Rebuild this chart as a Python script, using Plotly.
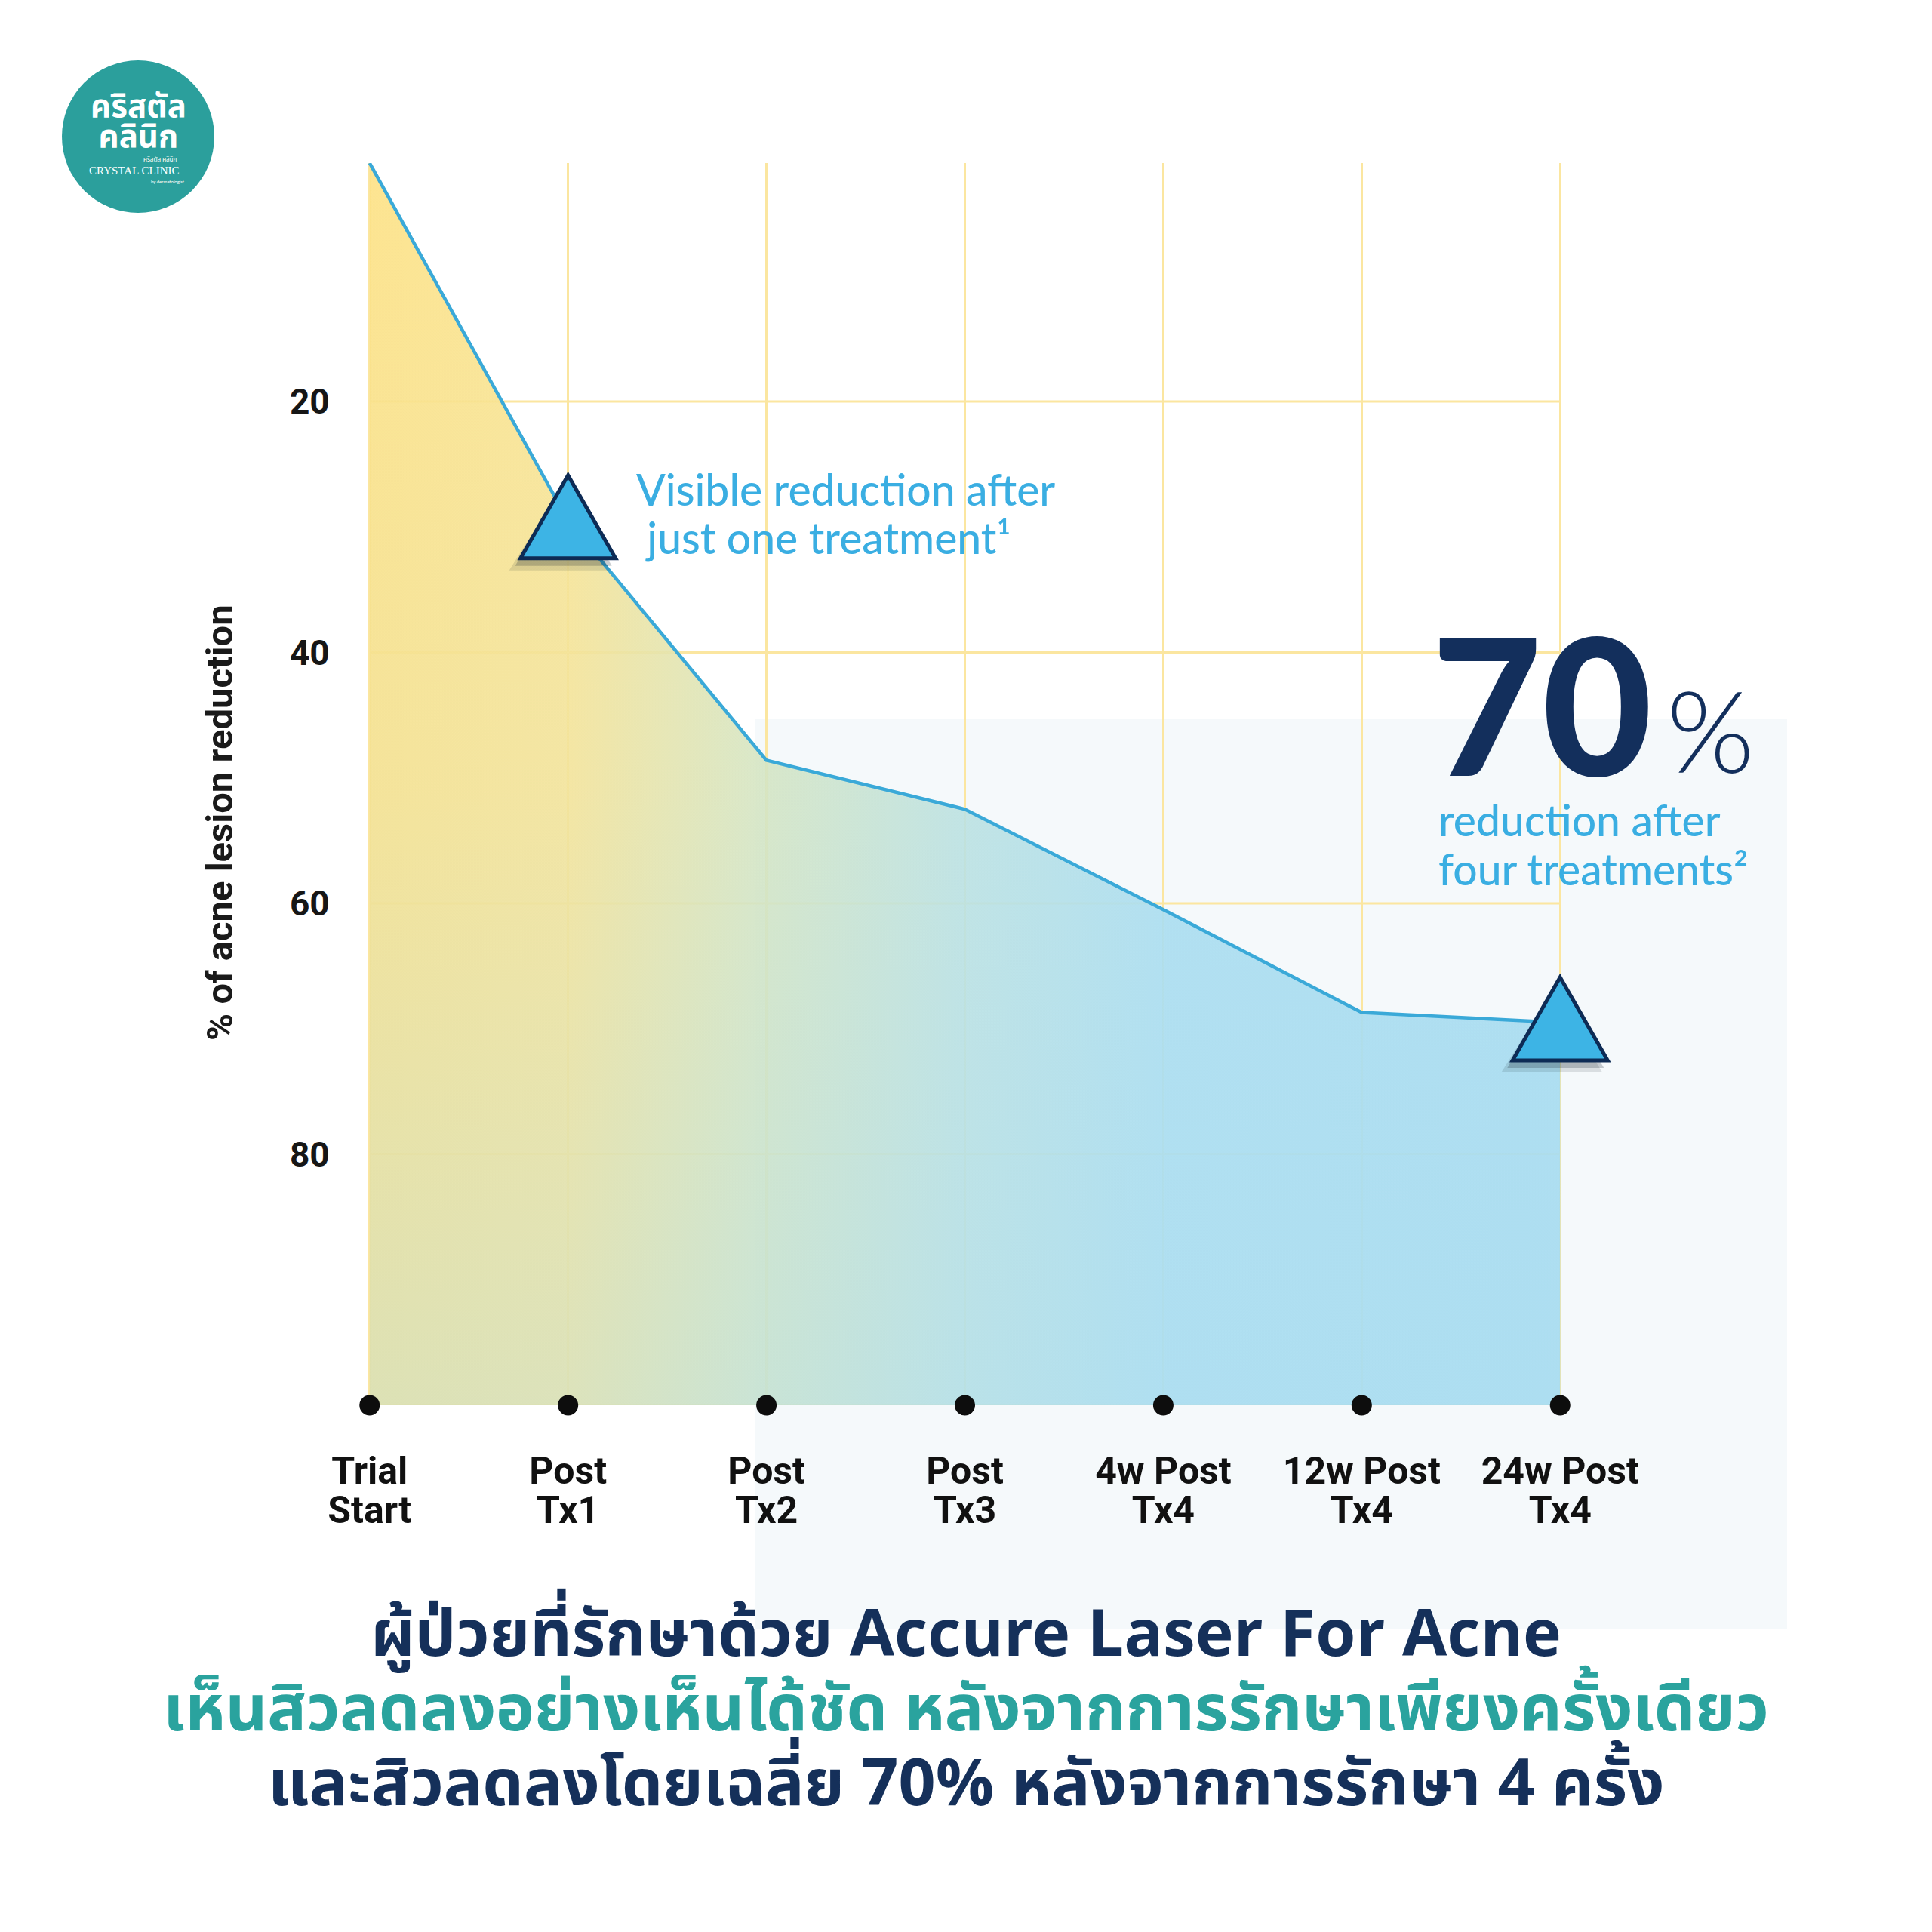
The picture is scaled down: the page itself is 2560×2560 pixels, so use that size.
import plotly.graph_objects as go

# ---------------- data ----------------
tick_line1 = ["Trial", "Post", "Post", "Post", "4w Post", "12w Post", "24w Post"]
tick_line2 = ["Start", "Tx1", "Tx2", "Tx3", "Tx4", "Tx4", "Tx4"]
reduction = [1, 29.5, 48.6, 52.5, 60.5, 68.7, 69.5]
y_tick_vals = [20, 40, 60, 80]
y_tick_text = ["20", "40", "60", "80"]
y_floor = 100
y_top = 1
highlight_points = [1, 6]

y_title = "% of acne lesion reduction"
note1 = ["Visible reduction after", "\u2009\u2009just one treatment¹"]
big_number = "70"
big_unit = "%"
note2 = ["reduction after", "four treatments²"]
headline = [
    "ผู้ป่วยที่รักษาด้วย Accure Laser For Acne",
    "เห็นสิวลดลงอย่างเห็นได้ชัด หลังจากการรักษาเพียงครั้งเดียว",
    "และสิวลดลงโดยเฉลี่ย 70% หลังจากการรักษา 4 ครั้ง",
]
logo_thai = ["คริสตัล", "คลินิก"]
logo_small = "คริสตัล คลินิก"
logo_en = "CRYSTAL CLINIC"
logo_by = "by dermatologist"

# ---------------- geometry ----------------
W = H = 2560
ML, MR, MT, MB = 332, 335, 216, 698
PW = W - ML - MR
PH = H - MT - MB
x_range = [-0.6, 6.6]


def px(x):
    return (x - ML) / PW


def py(y):
    return 1 - (y - MT) / PH


def sized(lines, size, bold=False, colors=None):
    out = []
    for k, t in enumerate(lines):
        style = "font-size:%dpx" % size
        if colors:
            style += ";color:%s" % colors[k]
        body = "<b>%s</b>" % t if bold else t
        out.append("<span style='%s'>%s</span>" % (style, body))
    return "<br>".join(out)


NAVY = "#15305a"
TEAL = "#2aa39e"
SKY = "#3aaee2"
GRID = "#fbe6a0"
THAI = "Noto Sans Thai, Noto Sans Thai UI, Kanit, Prompt, Noto Sans, sans-serif"
LATIN = "Lato, Open Sans, sans-serif"
DIN = "Roboto, Liberation Sans, sans-serif"

xs = list(range(len(tick_line1)))
n = len(xs)
poly_x = xs + xs[::-1]
poly_y = reduction + [y_floor] * n
tick_text = [sized([a, b], 50, bold=True) for a, b in zip(tick_line1, tick_line2)]

fig = go.Figure()

# area, horizontal yellow -> blue gradient
fig.add_trace(go.Scatter(
    x=poly_x, y=poly_y, fill="toself", mode="none", hoverinfo="skip",
    fillgradient=dict(type="horizontal", colorscale=[
        [0.0, "rgba(253,226,135,0.92)"],
        [0.17, "rgba(251,228,145,0.90)"],
        [0.33, "rgba(218,230,190,0.88)"],
        [0.50, "rgba(190,226,224,0.88)"],
        [0.67, "rgba(172,222,240,0.90)"],
        [1.0, "rgba(168,220,240,0.90)"],
    ]),
    showlegend=False,
))
# vertical overlay to make lower part bluer
fig.add_trace(go.Scatter(
    x=poly_x, y=poly_y, fill="toself", mode="none", hoverinfo="skip",
    fillgradient=dict(type="vertical", colorscale=[
        [0.0, "rgba(168,220,240,0.38)"],
        [0.5, "rgba(168,220,240,0.10)"],
        [1.0, "rgba(168,220,240,0.0)"],
    ]),
    showlegend=False,
))
# line
fig.add_trace(go.Scatter(
    x=xs, y=reduction, mode="lines", line=dict(color="#3aa9d8", width=4.5),
    hoverinfo="skip", showlegend=False,
))
# axis dots
fig.add_trace(go.Scatter(
    x=xs, y=[y_floor] * n, mode="markers", cliponaxis=False,
    marker=dict(size=27, color="#0d0d0d"), hoverinfo="skip", showlegend=False,
))

shapes = []
# light bluish background panel
shapes.append(dict(type="rect", xref="paper", yref="paper", layer="below",
                   x0=px(1000), x1=px(2368), y0=py(2158), y1=py(953),
                   fillcolor="#f5f9fb", line=dict(width=0)))
# horizontal grid (limited to category span)
for v in y_tick_vals + [y_floor]:
    shapes.append(dict(type="line", xref="x", yref="y", layer="between",
                       x0=xs[0], x1=xs[-1], y0=v, y1=v,
                       line=dict(color=GRID, width=3)))
# highlight triangles (shadow + triangle)
for i in highlight_points:
    shapes.append(dict(type="path", xref="x", yref="y", xsizemode="pixel", ysizemode="pixel",
                       xanchor=xs[i], yanchor=reduction[i],
                       path="M -10,42 L 56,-66 L -78,-66 Z",
                       fillcolor="rgba(20,30,45,0.12)", line=dict(width=0)))
    shapes.append(dict(type="path", xref="x", yref="y", xsizemode="pixel", ysizemode="pixel",
                       xanchor=xs[i], yanchor=reduction[i],
                       path="M -6,50 L 58,-60 L -70,-60 Z",
                       fillcolor="rgba(20,30,45,0.22)", line=dict(width=0)))
    shapes.append(dict(type="path", xref="x", yref="y", xsizemode="pixel", ysizemode="pixel",
                       xanchor=xs[i], yanchor=reduction[i],
                       path="M 0,60 L 63,-50 L -63,-50 Z",
                       fillcolor="#3db4e5", line=dict(color="#0d2b55", width=5)))
# logo circle
shapes.append(dict(type="circle", xref="paper", yref="paper",
                   x0=px(82), x1=px(284), y0=py(282), y1=py(80),
                   fillcolor="#2b9f9c", line=dict(width=0)))

ann = []
# y title
ann.append(dict(x=px(291), y=py(1090), xref="paper", yref="paper", text="<b>%s</b>" % y_title,
                textangle=-90, showarrow=False, xanchor="center", yanchor="middle",
                font=dict(family="Liberation Sans Narrow, Roboto, sans-serif", size=49, color="#1a1a1a")))
# note 1
ann.append(dict(x=px(841), y=py(680), xref="paper", yref="paper", text=sized(note1, 57),
                xanchor="left", yanchor="middle", align="left", showarrow=False,
                font=dict(family=LATIN, size=49, color=SKY, weight=500)))
# 70 %
ann.append(dict(x=px(1895), y=py(930), xref="paper", yref="paper", text=big_number,
                xanchor="left", yanchor="middle", showarrow=False,
                font=dict(family=LATIN, size=252, color="#132f5c", weight=900)))
ann.append(dict(x=px(2206), y=py(966), xref="paper", yref="paper", text=big_unit,
                xanchor="left", yanchor="middle", showarrow=False,
                font=dict(family=LATIN, size=150, color="#132f5c", weight=300)))
# note 2
ann.append(dict(x=px(1904), y=py(1118), xref="paper", yref="paper", text=sized(note2, 57),
                xanchor="left", yanchor="middle", align="left", showarrow=False,
                font=dict(family=LATIN, size=50, color=SKY, weight=500)))
# headline
ann.append(dict(x=px(1280), y=py(2267), xref="paper", yref="paper",
                text=sized(headline, 86, bold=True, colors=[NAVY, TEAL, NAVY]),
                xanchor="center", yanchor="middle", align="center", showarrow=False,
                font=dict(family=THAI, size=76, color=NAVY)))
# logo texts
ann.append(dict(x=px(183), y=py(162), xref="paper", yref="paper",
                text=sized(logo_thai, 42, bold=True),
                xanchor="center", yanchor="middle", align="center",
                showarrow=False, font=dict(family=THAI, size=31, color="white")))
ann.append(dict(x=px(212), y=py(212), xref="paper", yref="paper", text=logo_small,
                xanchor="center", yanchor="middle",
                showarrow=False, font=dict(family=THAI, size=8, color="white")))
ann.append(dict(x=px(178), y=py(226), xref="paper", yref="paper", text=logo_en,
                xanchor="center", yanchor="middle",
                showarrow=False, font=dict(family="Liberation Serif, serif", size=15, color="white")))
ann.append(dict(x=px(222), y=py(240), xref="paper", yref="paper", text=logo_by,
                xanchor="center", yanchor="middle",
                showarrow=False, font=dict(family=LATIN, size=6, color="white")))

fig.update_layout(
    width=W, height=H,
    margin=dict(l=ML, r=MR, t=MT, b=MB),
    paper_bgcolor="white", plot_bgcolor="rgba(0,0,0,0)",
    showlegend=False,
    xaxis=dict(range=x_range, tickvals=xs, ticktext=tick_text, ticks="",
               ticklabelstandoff=63,
               tickfont=dict(family=DIN, size=40, color="#111111"),
               showgrid=True, gridcolor=GRID, gridwidth=3, zeroline=False, showline=False),
    yaxis=dict(range=[y_floor, y_top], tickvals=y_tick_vals, ticktext=y_tick_text,
               anchor="free", position=(xs[0] - x_range[0]) / (x_range[1] - x_range[0]),
               ticks="", ticklabelstandoff=53, showgrid=False, zeroline=False, showline=False,
               tickfont=dict(family=DIN, size=46, color="#161616", weight="bold")),
    shapes=shapes,
    annotations=ann,
)

fig.write_html("out.html")
